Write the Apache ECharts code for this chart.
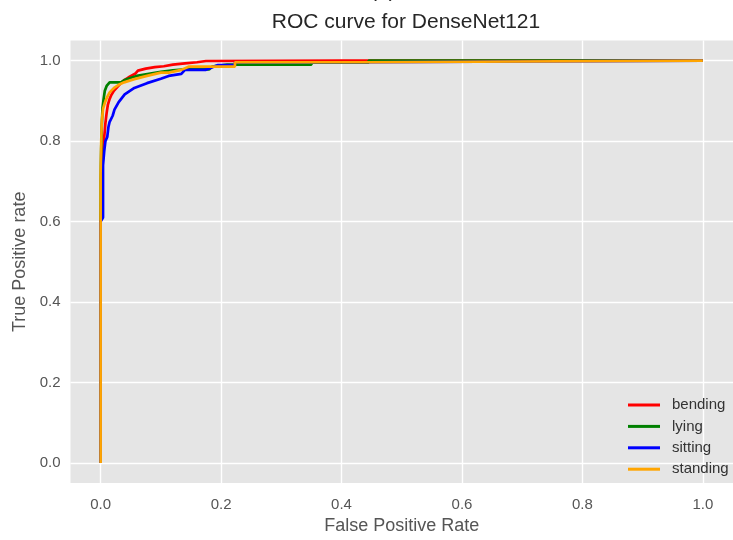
<!DOCTYPE html>
<html>
<head>
<meta charset="utf-8">
<script src="https://cdn.jsdelivr.net/npm/echarts@6/dist/echarts.min.js"></script>
<style>html,body{margin:0;padding:0;background:#fff}#c{width:733px;height:540px}</style>
</head>
<body>
<div id="c"></div>
<script>
var titleText = 'ROC curve for DenseNet121';
var xName = 'False Positive Rate';
var yName = 'True Positive rate';
var tickValues = [0, 0.2, 0.4, 0.6, 0.8, 1.0];
var classNames = ['bending', 'lying', 'sitting', 'standing'];
var classColors = ['#ff0000', '#008000', '#0000ff', '#ffa500'];

var bendingFpr = [0, 0, 0.002, 0.004, 0.006, 0.008, 0.010, 0.012, 0.015, 0.018, 0.022, 0.028, 0.034, 0.040, 0.046, 0.052, 0.058, 0.062, 0.075, 0.090, 0.105, 0.120, 0.140, 0.160, 0.175, 0.40, 1.0];
var bendingTpr = [0, 0.60, 0.70, 0.77, 0.81, 0.845, 0.87, 0.89, 0.905, 0.915, 0.925, 0.935, 0.945, 0.952, 0.958, 0.963, 0.968, 0.975, 0.980, 0.984, 0.986, 0.990, 0.993, 0.996, 0.999, 1.0, 1.0];

var lyingFpr = [0, 0, 0.001, 0.002, 0.003, 0.005, 0.007, 0.010, 0.015, 0.034, 0.040, 0.048, 0.060, 0.080, 0.100, 0.120, 0.140, 0.180, 0.185, 0.210, 0.350, 0.350, 0.445, 0.445, 1.0];
var lyingTpr = [0, 0.70, 0.78, 0.84, 0.88, 0.905, 0.925, 0.937, 0.946, 0.946, 0.952, 0.956, 0.962, 0.967, 0.972, 0.976, 0.978, 0.978, 0.985, 0.99, 0.99, 0.995, 0.995, 1.0, 1.0];

var sittingFpr = [0, 0, 0.004, 0.004, 0.006, 0.008, 0.011, 0.013, 0.015, 0.020, 0.023, 0.030, 0.040, 0.056, 0.077, 0.100, 0.113, 0.134, 0.140, 0.174, 0.195, 0.223, 0.223, 0.440, 0.440, 1.0];
var sittingTpr = [0, 0.60, 0.61, 0.74, 0.775, 0.80, 0.81, 0.835, 0.848, 0.863, 0.878, 0.897, 0.916, 0.932, 0.944, 0.955, 0.962, 0.967, 0.977, 0.977, 0.989, 0.989, 0.996, 0.996, 1.0, 1.0];

var standingFpr = [0, 0, 0.001, 0.002, 0.004, 0.007, 0.011, 0.015, 0.023, 0.030, 0.039, 0.056, 0.077, 0.100, 0.113, 0.134, 0.146, 0.223, 0.223, 0.440, 0.440, 1.0];
var standingTpr = [0, 0.72, 0.80, 0.85, 0.88, 0.895, 0.910, 0.921, 0.933, 0.940, 0.946, 0.954, 0.962, 0.970, 0.970, 0.977, 0.985, 0.985, 0.996, 0.996, 1.0, 1.0];

var fprs = [bendingFpr, lyingFpr, sittingFpr, standingFpr];
var tprs = [bendingTpr, lyingTpr, sittingTpr, standingTpr];

function pairs(xs, ys) { return xs.map(function (x, i) { return [x, ys[i]]; }); }

var chart = echarts.init(document.getElementById('c'), null, {renderer: 'canvas'});
var FONT = '"Liberation Sans", Arial, sans-serif';
var series = classNames.map(function (n, i) {
  return {
    name: n, type: 'line', data: pairs(fprs[i], tprs[i]),
    symbol: 'none', smooth: false, animation: false,
    lineStyle: {color: classColors[i], width: 2.7},
    itemStyle: {color: classColors[i]}
  };
});
chart.setOption({
  animation: false,
  backgroundColor: '#ffffff',
  title: {
    text: titleText, left: 406, top: 12, textAlign: 'center', padding: 0,
    textStyle: {fontFamily: FONT, fontSize: 21, fontWeight: 'normal', color: '#262626'}
  },
  graphic: [{
    type: 'text', left: 370, top: -19.5,
    style: {text: '(b)', font: '21px "Liberation Sans", Arial, sans-serif', fill: '#262626'}
  }],
  grid: {
    left: 70.5, top: 40.5, width: 671, height: 451,
    show: true, backgroundColor: '#e5e5e5', borderWidth: 0, containLabel: false
  },
  legend: {
    orient: 'vertical', left: 628, top: 397.5, padding: 0,
    icon: 'rect', itemWidth: 32, itemHeight: 3, itemGap: 6.4,
    data: classNames,
    textStyle: {fontFamily: FONT, fontSize: 15, lineHeight: 15, color: '#333', padding: [0, 0, 0, 7]}
  },
  xAxis: {
    type: 'value', min: -0.05, max: 1.05,
    name: xName, nameLocation: 'middle', nameGap: 28,
    nameTextStyle: {fontFamily: FONT, fontSize: 18, color: '#555'},
    axisLine: {show: false},
    axisTick: {show: false, customValues: tickValues},
    axisLabel: {customValues: tickValues, margin: 14, fontFamily: FONT, fontSize: 15, color: '#555',
      formatter: function (v) { return v.toFixed(1); }},
    splitLine: {show: true, lineStyle: {color: '#ffffff', width: 1.4}}
  },
  yAxis: {
    type: 'value', min: -0.05, max: 1.05,
    name: yName, nameLocation: 'middle', nameGap: 34,
    nameTextStyle: {fontFamily: FONT, fontSize: 18, color: '#555'},
    axisLine: {show: false},
    axisTick: {show: false, customValues: tickValues},
    axisLabel: {customValues: tickValues, margin: 10, fontFamily: FONT, fontSize: 15, color: '#555',
      formatter: function (v) { return v.toFixed(1); }},
    splitLine: {show: true, lineStyle: {color: '#ffffff', width: 1.4}}
  },
  series: series
});
</script>
</body>
</html>
